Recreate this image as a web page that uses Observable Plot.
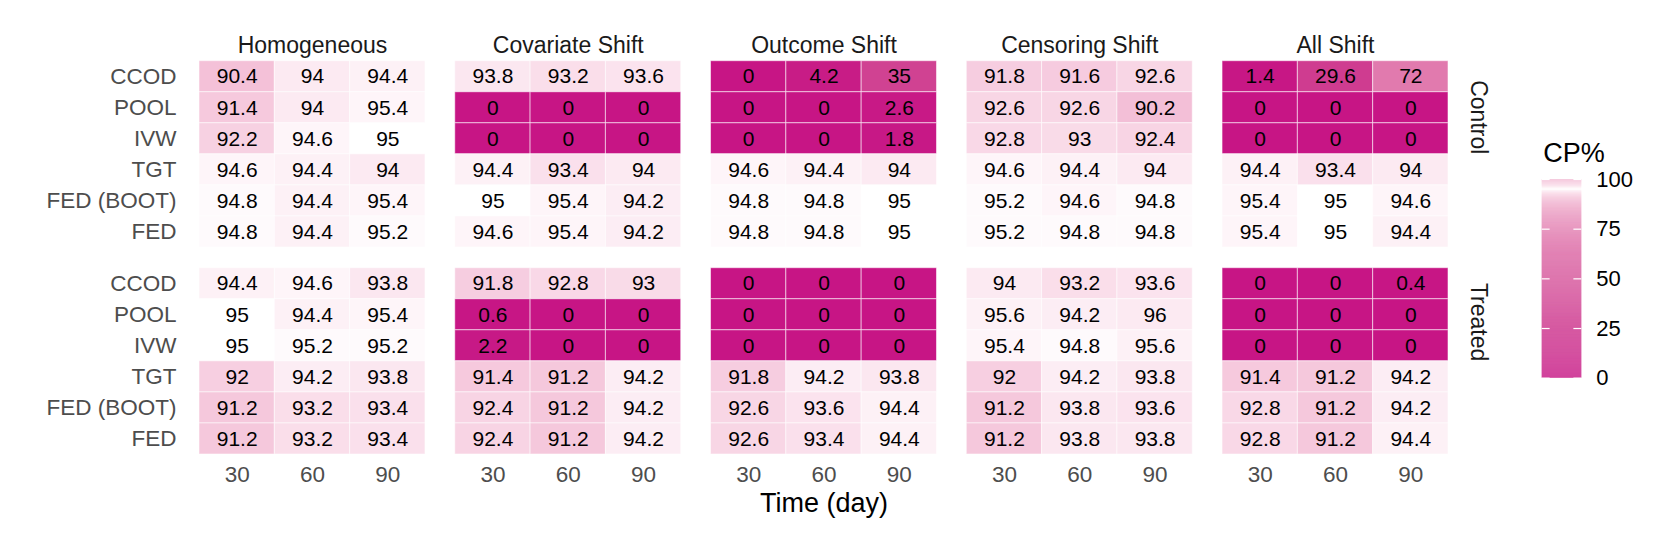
<!DOCTYPE html>
<html>
<head>
<meta charset="utf-8">
<script src="https://cdn.jsdelivr.net/npm/d3@7"></script>
<script src="https://cdn.jsdelivr.net/npm/@observablehq/plot@0.6"></script>
<style>
  html, body { margin: 0; padding: 0; background: #ffffff; }
  #wrap { position: relative; width: 1661px; height: 540px; overflow: hidden; background: #ffffff; }
  #wrap svg { position: absolute; top: 0; }
  #main svg { left: 0; }
</style>
</head>
<body>
<div id="wrap"><div id="main"></div><div id="legend"></div></div>
<script>
// ---- Data ----
const methods = ["CCOD", "POOL", "IVW", "TGT", "FED (BOOT)", "FED"];
const scenarios = ["Homogeneous", "Covariate Shift", "Outcome Shift", "Censoring Shift", "All Shift"];
const groups = ["Control", "Treated"];
const times = [30, 60, 90];
const legendBreaks = [0, 25, 50, 75, 100];
const xTitle = "Time (day)";
const legendTitle = "CP%";

// rows = methods (CCOD, POOL, IVW, TGT, FED (BOOT), FED); columns = times 30, 60, 90
const controlHomogeneous = [[90.4, 94, 94.4], [91.4, 94, 95.4], [92.2, 94.6, 95], [94.6, 94.4, 94], [94.8, 94.4, 95.4], [94.8, 94.4, 95.2]];
const controlCovariate   = [[93.8, 93.2, 93.6], [0, 0, 0], [0, 0, 0], [94.4, 93.4, 94], [95, 95.4, 94.2], [94.6, 95.4, 94.2]];
const controlOutcome     = [[0, 4.2, 35], [0, 0, 2.6], [0, 0, 1.8], [94.6, 94.4, 94], [94.8, 94.8, 95], [94.8, 94.8, 95]];
const controlCensoring   = [[91.8, 91.6, 92.6], [92.6, 92.6, 90.2], [92.8, 93, 92.4], [94.6, 94.4, 94], [95.2, 94.6, 94.8], [95.2, 94.8, 94.8]];
const controlAll         = [[1.4, 29.6, 72], [0, 0, 0], [0, 0, 0], [94.4, 93.4, 94], [95.4, 95, 94.6], [95.4, 95, 94.4]];

const treatedHomogeneous = [[94.4, 94.6, 93.8], [95, 94.4, 95.4], [95, 95.2, 95.2], [92, 94.2, 93.8], [91.2, 93.2, 93.4], [91.2, 93.2, 93.4]];
const treatedCovariate   = [[91.8, 92.8, 93], [0.6, 0, 0], [2.2, 0, 0], [91.4, 91.2, 94.2], [92.4, 91.2, 94.2], [92.4, 91.2, 94.2]];
const treatedOutcome     = [[0, 0, 0], [0, 0, 0], [0, 0, 0], [91.8, 94.2, 93.8], [92.6, 93.6, 94.4], [92.6, 93.4, 94.4]];
const treatedCensoring   = [[94, 93.2, 93.6], [95.6, 94.2, 96], [95.4, 94.8, 95.6], [92, 94.2, 93.8], [91.2, 93.8, 93.6], [91.2, 93.8, 93.8]];
const treatedAll         = [[0, 0, 0.4], [0, 0, 0], [0, 0, 0], [91.4, 91.2, 94.2], [92.8, 91.2, 94.2], [92.8, 91.2, 94.4]];

const tables = {
  Control: [controlHomogeneous, controlCovariate, controlOutcome, controlCensoring, controlAll],
  Treated: [treatedHomogeneous, treatedCovariate, treatedOutcome, treatedCensoring, treatedAll]
};

const rows = [];
groups.forEach(g => scenarios.forEach((s, si) => methods.forEach((m, mi) => times.forEach((t, ti) => {
  rows.push({group: g, scenario: s, method: m, time: t, cp: tables[g][si][mi][ti]});
}))));

// ---- Colour scale (diverging around 95) ----
const VIOLET = "#C71585";
const colorOpts = () => ({
  type: "linear",
  transform: v => Math.sign(v - 95) * Math.log1p(Math.abs(v - 95) / 2) / Math.log1p(95 / 2),
  domain: [-1, 0, 1],
  range: [VIOLET, "#ffffff", VIOLET],
  interpolate: "lab"
});

const FONT = "'Liberation Sans', Arial, Helvetica, sans-serif";

// ---- Main heat map ----
const axisLabelRows = [];
groups.forEach(g => methods.forEach(m => axisLabelRows.push({group: g, method: m})));
const tickRows = [];
scenarios.forEach(s => times.forEach(t => tickRows.push({scenario: s, time: t})));

const main = Plot.plot({
  width: 1661,
  height: 540,
  marginLeft: 199,
  marginRight: 213,
  marginTop: 60.7,
  marginBottom: 86,
  style: {fontFamily: FONT, background: "#ffffff", color: "#000"},
  fx: {domain: scenarios, paddingInner: 0.1165, paddingOuter: 0, round: false, axis: null, label: null},
  fy: {domain: groups, paddingInner: 0.1, paddingOuter: 0, round: false, axis: null, label: null},
  x: {type: "band", domain: times, padding: 0, round: false, axis: null},
  y: {type: "band", domain: methods, padding: 0, round: false, axis: null},
  color: colorOpts(),
  marks: [
    Plot.cell(rows, {x: "time", y: "method", fx: "scenario", fy: "group", fill: "cp",
      stroke: "#ffffff", strokeWidth: 1, strokeOpacity: 0.55}),
    Plot.text(rows, {x: "time", y: "method", fx: "scenario", fy: "group",
      text: d => String(d.cp), fill: "#000000", fontSize: 21}),
    // facet titles (top)
    Plot.text(scenarios, {fx: d => d, fy: () => "Control", frameAnchor: "top", dy: -25,
      text: d => d, fontSize: 23, fill: "#1A1A1A"}),
    // facet titles (right, rotated)
    Plot.text(groups, {fy: d => d, fx: () => "All Shift", frameAnchor: "right", dx: 30,
      rotate: 90, text: d => d, fontSize: 23, fill: "#1A1A1A"}),
    // y tick labels
    Plot.text(axisLabelRows, {fx: () => "Homogeneous", fy: "group", y: "method", frameAnchor: "left",
      dx: -23, textAnchor: "end", text: "method", fontSize: 22.5, fill: "#4D4D4D"}),
    // x tick labels
    Plot.text(tickRows, {fx: "scenario", fy: () => "Treated", x: "time", frameAnchor: "bottom",
      dy: 27, text: d => String(d.time), fontSize: 22.5, fill: "#4D4D4D"}),
    // x axis title (centred under the middle facet, which is the centre of the panel block)
    Plot.text([xTitle], {fx: () => scenarios[2], fy: () => "Treated", frameAnchor: "bottom", dy: 57,
      text: d => d, fontSize: 27, fill: "#000000"})
  ]
});
document.getElementById("main").appendChild(main);

// ---- Vertical colour-bar legend ----
const legendSteps = d3.range(0, 100, 0.25);
const legend = Plot.plot({
  width: 131,
  height: 540,
  marginLeft: 11.7,
  marginRight: 79.7,
  marginTop: 179,
  marginBottom: 162.3,
  style: {fontFamily: FONT, background: "transparent", overflow: "visible"},
  x: {domain: [0, 1], axis: null},
  y: {domain: [0, 100], axis: null},
  color: colorOpts(),
  marks: [
    Plot.rect(legendSteps, {x1: 0, x2: 1, y1: d => d, y2: d => Math.min(100, d + 0.3), fill: d => d + 0.125}),
    Plot.ruleY(legendBreaks, {x1: 0, x2: 0.2, stroke: "#ffffff", strokeWidth: 1.2}),
    Plot.ruleY(legendBreaks, {x1: 0.8, x2: 1, stroke: "#ffffff", strokeWidth: 1.2}),
    Plot.text(legendBreaks, {x: 1, y: d => d, dx: 14.4, textAnchor: "start", text: d => String(d),
      fontSize: 22, fill: "#000000"}),
    Plot.text([legendTitle], {x: 0, y: () => 100, dy: -26.6, dx: 1, textAnchor: "start", text: d => d,
      fontSize: 27, fill: "#000000"})
  ]
});
legend.style.left = "1530px";
document.getElementById("legend").appendChild(legend);
</script>
</body>
</html>
